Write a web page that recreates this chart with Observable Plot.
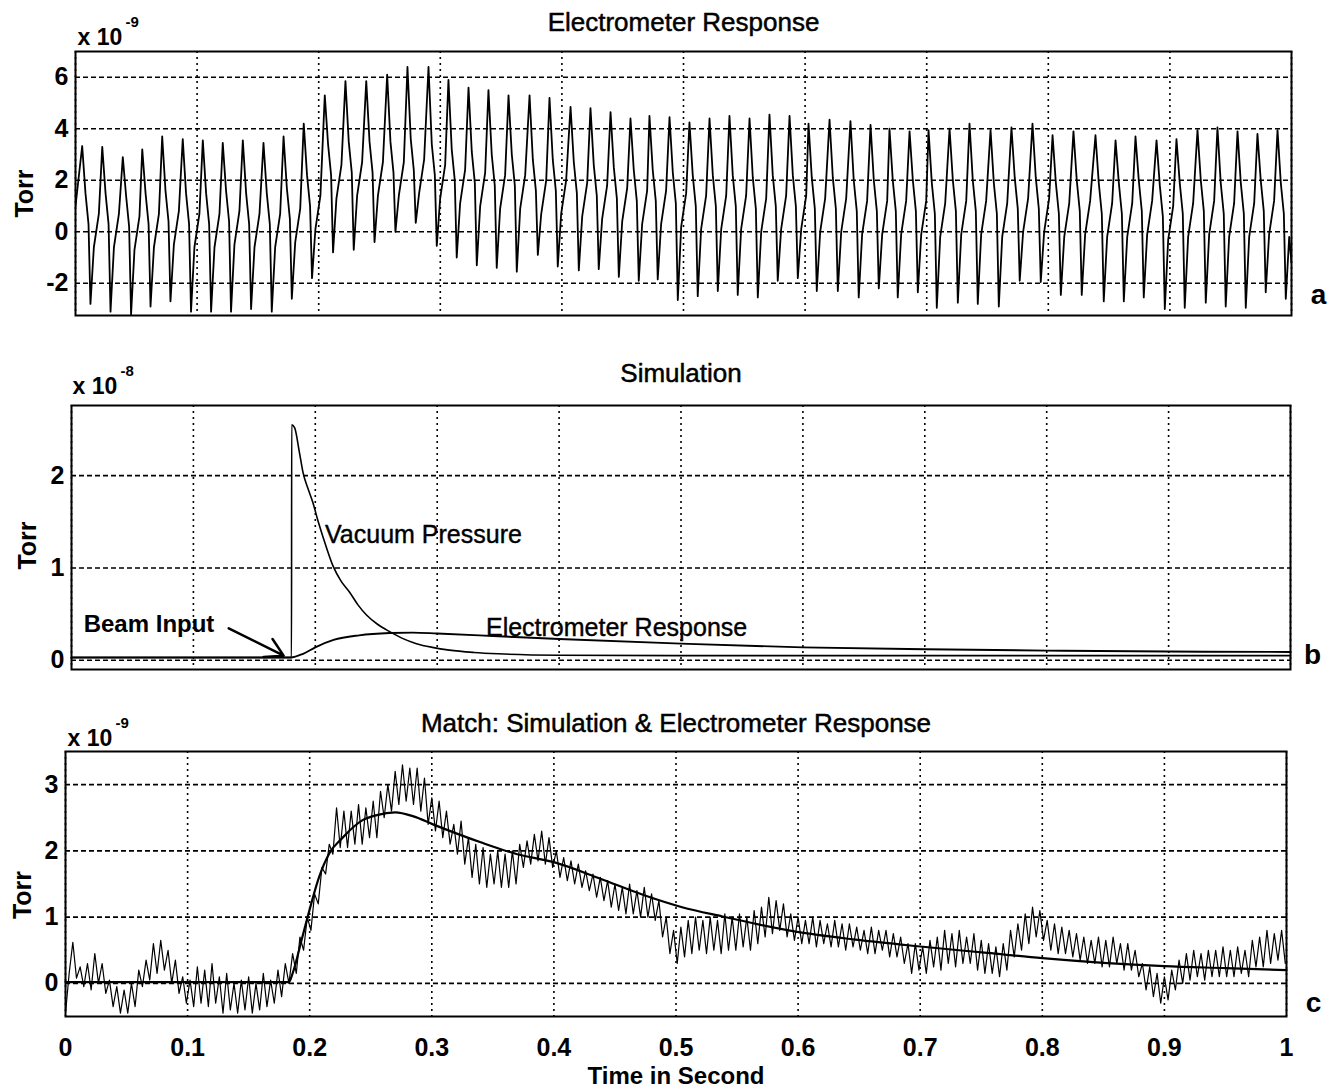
<!DOCTYPE html>
<html>
<head>
<meta charset="utf-8">
<script src="https://cdn.jsdelivr.net/npm/d3@7"></script>
<script src="https://cdn.jsdelivr.net/npm/@observablehq/plot@0.6"></script>
<style>
  body { margin: 0; background: #fff; }
  #chart { width: 1328px; height: 1091px; background: #fff; }
  #chart svg { display: block; }
</style>
</head>
<body>
<div id="chart"></div>
<script>
// ---------- shared axis data ----------
const xTicks = [0, 0.1, 0.2, 0.3, 0.4, 0.5, 0.6, 0.7, 0.8, 0.9, 1];
const xTickLabels = ["0", "0.1", "0.2", "0.3", "0.4", "0.5", "0.6", "0.7", "0.8", "0.9", "1"];
const xAxisTitle = "Time in Second";
const yAxisTitle = "Torr";

// ---------- panel a : Electrometer Response (x 10^-9 Torr) ----------
const aTitle = "Electrometer Response";
const aExponent = "-9";
const aTag = "a";
const aYTicks = [-2, 0, 2, 4, 6];
const aYTickLabels = ["-2", "0", "2", "4", "6"];
const aStart = [0, 1.0];
const aEnd = [1, -1.2];
// waveform shape of one 60 Hz cycle: time after each peak (s)
// and level relative to the cycle's knee level (null = use the trough value)
const aShapeT = [0.0027, 0.0052, 0.0068, 0.0096, 0.0137];
const aShapeRel = [1.2, 0, null, -0.9, 0.4];
const aPeakT = [0.0055, 0.0220, 0.0389, 0.0549, 0.0713, 0.0882, 0.1047, 0.1211, 0.1376, 0.1546,
  0.1711, 0.1877, 0.2050, 0.2220, 0.2391, 0.2563, 0.2730, 0.2903, 0.3067, 0.3232,
  0.3396, 0.3561, 0.3734, 0.3898, 0.4071, 0.4235, 0.4400, 0.4564, 0.4720, 0.4885,
  0.5049, 0.5214, 0.5378, 0.5543, 0.5707, 0.5872, 0.6028, 0.6201, 0.6373, 0.6538,
  0.6694, 0.6859, 0.7015, 0.7188, 0.7352, 0.7525, 0.7697, 0.7870, 0.8035, 0.8207,
  0.8388, 0.8553, 0.8717, 0.8890, 0.9054, 0.9227, 0.9391, 0.9556, 0.9720, 0.9885];
const aPeakV = [3.33, 3.3, 2.9, 3.2, 3.7, 3.6, 3.55, 3.45, 3.55, 3.45,
  3.7, 4.2, 5.3, 5.85, 5.85, 6.1, 6.4, 6.4, 5.9, 5.6,
  5.5, 5.3, 5.3, 5.2, 4.85, 4.8, 4.65, 4.4, 4.5, 4.45,
  4.25, 4.4, 4.5, 4.4, 4.55, 4.5, 4.2, 4.35, 4.3, 4.15,
  4.0, 3.9, 3.95, 4.0, 4.2, 3.95, 4.05, 4.2, 3.75, 3.9,
  3.75, 3.55, 3.7, 3.55, 3.6, 3.95, 4.05, 3.9, 3.8, 3.95];
const aKneeV = [0.3, 0.3, 0.2, 0.3, 0.4, 0.3, 0.3, 0.4, 0.3, 0.3,
  0.5, 1.0, 2.2, 2.3, 2.3, 2.3, 2.4, 2.2, 2.0, 1.9,
  1.8, 1.8, 1.6, 1.6, 1.5, 1.4, 1.3, 1.2, 1.2, 1.1,
  1.0, 1.0, 1.0, 0.9, 1.0, 1.0, 0.9, 0.9, 0.8, 0.8,
  0.8, 0.8, 0.7, 0.8, 0.8, 0.7, 0.9, 0.9, 0.7, 0.8,
  0.7, 0.7, 0.8, 0.6, 0.7, 0.8, 0.7, 0.7, 0.8, 0.7];
const aTroughV = [-2.8, -3.1, -3.2, -2.9, -2.7, -3.1, -3.1, -3.1, -3.0, -3.1,
  -2.6, -1.8, -0.8, -0.7, -0.4, 0.0, 0.35, -0.55, -1.0, -1.3,
  -1.4, -1.55, -0.9, -1.35, -1.5, -1.45, -1.75, -1.9, -1.85, -2.65,
  -2.5, -2.3, -2.45, -2.55, -1.9, -1.8, -2.3, -2.3, -2.55, -2.2,
  -2.55, -2.35, -2.95, -2.75, -2.8, -2.9, -1.9, -1.95, -2.45, -2.45,
  -2.7, -2.7, -2.55, -3.0, -2.95, -2.75, -2.9, -2.95, -2.35, -2.6];

// ---------- panel b : Simulation (x 10^-8 Torr) ----------
const bTitle = "Simulation";
const bExponent = "-8";
const bTag = "b";
const bYTicks = [0, 1, 2];
const bYTickLabels = ["0", "1", "2"];
const vacuumT = [0, 0.1805, 0.1806, 0.183, 0.187, 0.190, 0.194, 0.198, 0.202, 0.206, 0.2146, 0.221, 0.228, 0.235, 0.242, 0.251, 0.261, 0.271, 0.283, 0.296, 0.31, 0.33, 0.35, 0.40, 0.50, 0.70, 1.0];
const vacuumV = [0.03, 0.03, 2.55, 2.52, 2.25, 2.03, 1.86, 1.71, 1.52, 1.35, 1.02, 0.86, 0.74, 0.6, 0.49, 0.39, 0.31, 0.24, 0.18, 0.14, 0.11, 0.085, 0.07, 0.055, 0.05, 0.05, 0.05];
const bElecT = [0, 0.18, 0.19, 0.20, 0.215, 0.236, 0.261, 0.28, 0.30, 0.35, 0.40, 0.50, 0.60, 0.70, 0.80, 0.90, 1.0];
const bElecV = [0.03, 0.03, 0.07, 0.14, 0.22, 0.27, 0.295, 0.30, 0.29, 0.26, 0.23, 0.18, 0.14, 0.12, 0.105, 0.095, 0.09];
const bLabelsNormal = [
  {label: "Vacuum Pressure", x: 0.208, y: 1.36},
  {label: "Electrometer Response", x: 0.34, y: 0.355}
];
const bLabelsBold = [{label: "Beam Input", x: 0.01, y: 0.39}];
const bArrow = [{x1: 0.129, y1: 0.345, x2: 0.174, y2: 0.05}];

// ---------- panel c : Match (x 10^-9 Torr) ----------
const cTitle = "Match: Simulation & Electrometer Response";
const cExponent = "-9";
const cTag = "c";
const cYTicks = [0, 1, 2, 3];
const cYTickLabels = ["0", "1", "2", "3"];
const cSimT = [0, 0.183, 0.186, 0.194, 0.199, 0.2076, 0.216, 0.227, 0.243, 0.255, 0.27, 0.285, 0.301, 0.34, 0.37, 0.40, 0.438, 0.474, 0.505, 0.538, 0.598, 0.647, 0.698, 0.755, 0.80, 0.85, 0.90, 0.95, 1.0];
const cSimV = [0.02, 0.02, 0.15, 0.7, 1.05, 1.6, 1.96, 2.2, 2.46, 2.54, 2.58, 2.52, 2.4, 2.13, 1.95, 1.83, 1.58, 1.33, 1.15, 1.01, 0.78, 0.66, 0.56, 0.46, 0.38, 0.31, 0.26, 0.23, 0.2];
const cNoisyStep = 0.003;
const cNoisyV = [
  -0.45, 0.15, 0.62, 0.08, 0.25, -0.05, 0.3, -0.1, 0.45, 0.0,
  0.3, -0.15, 0.05, -0.35, -0.05, -0.45, -0.1, -0.45, 0.0, -0.35,
  0.2, -0.05, 0.35, 0.05, 0.6, 0.15, 0.65, 0.2, 0.5, 0.0,
  0.35, -0.15, 0.1, -0.3, 0.05, -0.35, 0.25, -0.3, 0.2, -0.35,
  0.3, -0.3, 0.1, -0.45, 0.15, -0.4, 0.0, -0.45, 0.05, -0.4,
  0.1, -0.45, 0.0, -0.4, 0.15, -0.35, 0.05, -0.3, 0.2, -0.2,
  0.3, 0.0, 0.45, 0.15, 0.7, 0.5, 1.0, 0.8, 1.35, 1.2,
  1.75, 1.65, 2.1, 1.95, 2.65, 2.05, 2.6, 2.05, 2.6, 2.1,
  2.7, 2.1, 2.65, 2.2, 2.75, 2.2, 2.9, 2.5, 3.0, 2.6,
  3.2, 2.7, 3.3, 2.75, 3.25, 2.7, 3.25, 2.6, 3.1, 2.4,
  2.8, 2.3, 2.75, 2.2, 2.6, 2.1, 2.4, 1.95, 2.45, 1.8,
  2.2, 1.6, 2.1, 1.5, 2.05, 1.45, 1.95, 1.5, 2.0, 1.45,
  1.95, 1.45, 2.0, 1.5, 2.1, 1.75, 2.15, 1.8, 2.25, 1.85,
  2.3, 1.8, 2.2, 1.75, 2.0, 1.6, 1.9, 1.55, 1.85, 1.5,
  1.8, 1.45, 1.7, 1.4, 1.65, 1.3, 1.6, 1.25, 1.55, 1.15,
  1.5, 1.1, 1.45, 1.05, 1.5, 1.05, 1.4, 1.0, 1.45, 1.0,
  1.35, 0.95, 1.25, 0.7, 1.0, 0.45, 0.8, 0.3, 0.85, 0.4,
  0.95, 0.45, 1.0, 0.5, 0.95, 0.45, 1.0, 0.5, 0.95, 0.45,
  1.05, 0.5, 1.0, 0.5, 1.05, 0.55, 1.0, 0.5, 1.1, 0.6,
  1.15, 0.7, 1.3, 0.75, 1.25, 0.8, 1.2, 0.7, 1.05, 0.65,
  1.0, 0.6, 0.95, 0.6, 1.0, 0.55, 0.95, 0.6, 0.9, 0.55,
  0.95, 0.55, 0.9, 0.5, 0.9, 0.55, 0.85, 0.5, 0.8, 0.45,
  0.85, 0.45, 0.8, 0.5, 0.8, 0.4, 0.75, 0.4, 0.7, 0.3,
  0.6, 0.15, 0.6, 0.2, 0.55, 0.15, 0.65, 0.25, 0.7, 0.2,
  0.8, 0.3, 0.75, 0.25, 0.8, 0.3, 0.7, 0.3, 0.75, 0.2,
  0.65, 0.15, 0.6, 0.15, 0.55, 0.1, 0.6, 0.2, 0.8, 0.4,
  0.9, 0.5, 1.05, 0.6, 1.15, 0.7, 1.1, 0.65, 0.95, 0.5,
  0.9, 0.45, 0.85, 0.45, 0.8, 0.4, 0.75, 0.35, 0.7, 0.3,
  0.65, 0.3, 0.7, 0.25, 0.65, 0.25, 0.7, 0.3, 0.6, 0.2,
  0.6, 0.2, 0.5, 0.1, 0.3, -0.1, 0.25, -0.2, 0.15, -0.3,
  0.1, -0.25, 0.2, -0.1, 0.35, 0.0, 0.45, 0.05, 0.5, 0.1,
  0.45, 0.05, 0.5, 0.1, 0.5, 0.1, 0.55, 0.1, 0.5, 0.1,
  0.55, 0.15, 0.5, 0.1, 0.65, 0.25, 0.7, 0.25, 0.8, 0.3,
  0.75, 0.35, 0.8, 0.3
];

// ---------- build tables ----------
const aPts = [{t: aStart[0], v: aStart[1]}];
aPeakT.forEach((t, i) => {
  aPts.push({t, v: aPeakV[i]});
  aShapeT.forEach((dt, k) => {
    if (t + dt >= aEnd[0]) return;
    const rel = aShapeRel[k];
    aPts.push({t: t + dt, v: rel === null ? aTroughV[i] : aKneeV[i] + rel});
  });
});
aPts.push({t: aEnd[0], v: aEnd[1]});
const vacuumPts = vacuumT.map((t, i) => ({t, v: vacuumV[i]}));
const bElecPts = bElecT.map((t, i) => ({t, v: bElecV[i]}));
const cSimPts = cSimT.map((t, i) => ({t, v: cSimV[i]}));
const cNoisyPts = cNoisyV.map((v, i) => ({t: i * cNoisyStep, v}));

const font = "'Liberation Sans', Arial, Helvetica, sans-serif";
const id = d => d;
const heavy = {fill: "black", stroke: "black", strokeWidth: 0.5};

function panel(o) {
  const marks = [
    Plot.gridY(o.yTicks, {stroke: "black", strokeOpacity: 1, strokeWidth: 1.6, strokeDasharray: "5,3"}),
    Plot.gridX(xTicks, {stroke: "black", strokeOpacity: 1, strokeWidth: 1.6, strokeDasharray: "2,4"}),
    Plot.axisY(o.yTicks, {tickSize: 0, tickPadding: 7, fontSize: 25, fontWeight: "bold", label: null,
      tickFormat: d => o.yLabels[o.yTicks.indexOf(d)]}),
    ...o.marks,
    Plot.frame({stroke: "black", strokeWidth: 2}),
    Plot.text([o.title], {text: id, frameAnchor: "top", lineAnchor: "middle", dy: o.titleDy, fontSize: 26, ...heavy}),
    Plot.text([yAxisTitle], {text: id, frameAnchor: "left", textAnchor: "middle", lineAnchor: "middle",
      dx: o.torrDx, dy: o.torrDy, rotate: -90, fontSize: 25, fontWeight: "bold"}),
    Plot.text(["x 10"], {text: id, frameAnchor: "top-left", textAnchor: "start", lineAnchor: "middle",
      dx: o.expDx, dy: o.expDy, fontSize: 23, fontWeight: "bold"}),
    Plot.text([o.exponent], {text: id, frameAnchor: "top-left", textAnchor: "start", lineAnchor: "middle",
      dx: o.expDx + 48, dy: o.expDy - 15, fontSize: 15, fontWeight: "bold"}),
    Plot.text([o.tag], {text: id, frameAnchor: "bottom-right", textAnchor: "middle", lineAnchor: "middle",
      dx: o.tagDx, dy: o.tagDy, fontSize: 28, fontWeight: "bold"})
  ];
  return Plot.plot({
    width: 1328, height: o.height,
    marginTop: o.mt, marginBottom: o.mb, marginLeft: o.ml, marginRight: o.mr,
    style: {fontFamily: font, color: "black", background: "white", overflow: "visible"},
    x: {domain: [0, 1], axis: null},
    y: {domain: o.yDomain, axis: null},
    marks
  });
}

const chart = document.getElementById("chart");

chart.append(panel({
  height: 335, mt: 51, mb: 20, ml: 75, mr: 37,
  yDomain: [-3.25, 7], yTicks: aYTicks, yLabels: aYTickLabels,
  title: aTitle, titleDy: -29, exponent: aExponent, tag: aTag,
  torrDx: -51, torrDy: 10, expDx: 2, expDy: -14, tagDx: 27, tagDy: -20,
  marks: [
    Plot.line(aPts, {x: "t", y: "v", stroke: "black", strokeWidth: 1.8, clip: true})
  ]
}));

chart.append(panel({
  height: 345, mt: 70, mb: 11, ml: 71, mr: 38,
  yDomain: [-0.1, 2.76], yTicks: bYTicks, yLabels: bYTickLabels,
  title: bTitle, titleDy: -32, exponent: bExponent, tag: bTag,
  torrDx: -44, torrDy: 8, expDx: 1, expDy: -19, tagDx: 22, tagDy: -14,
  marks: [
    Plot.line(vacuumPts, {x: "t", y: "v", stroke: "black", strokeWidth: 1.6, curve: "monotone-x"}),
    Plot.line(bElecPts, {x: "t", y: "v", stroke: "black", strokeWidth: 1.9, curve: "monotone-x"}),
    Plot.text(bLabelsNormal, {x: "x", y: "y", text: "label", textAnchor: "start", lineAnchor: "middle",
      fontSize: 25, fill: "black", stroke: "black", strokeWidth: 0.4}),
    Plot.text(bLabelsBold, {x: "x", y: "y", text: "label", textAnchor: "start", lineAnchor: "middle",
      fontSize: 24, fontWeight: "bold"}),
    Plot.arrow(bArrow, {x1: "x1", y1: "y1", x2: "x2", y2: "y2", stroke: "black", strokeWidth: 2.5,
      headLength: 12, bend: 0})
  ]
}));

chart.append(panel({
  height: 411, mt: 71, mb: 75, ml: 65, mr: 42,
  yDomain: [-0.5, 3.5], yTicks: cYTicks, yLabels: cYTickLabels,
  title: cTitle, titleDy: -28, exponent: cExponent, tag: cTag,
  torrDx: -43, torrDy: 11, expDx: 2, expDy: -13, tagDx: 27, tagDy: -13,
  marks: [
    Plot.line(cNoisyPts, {x: "t", y: "v", stroke: "black", strokeWidth: 1.2, clip: true}),
    Plot.line(cSimPts, {x: "t", y: "v", stroke: "black", strokeWidth: 2.2, curve: "monotone-x"}),
    Plot.axisX(xTicks, {tickSize: 0, tickPadding: 22, fontSize: 25, fontWeight: "bold", label: null,
      tickFormat: d => xTickLabels[xTicks.indexOf(d)]}),
    Plot.text([xAxisTitle], {text: id, frameAnchor: "bottom", lineAnchor: "middle", dy: 60,
      fontSize: 24, fontWeight: "bold"})
  ]
}));
</script>
</body>
</html>
